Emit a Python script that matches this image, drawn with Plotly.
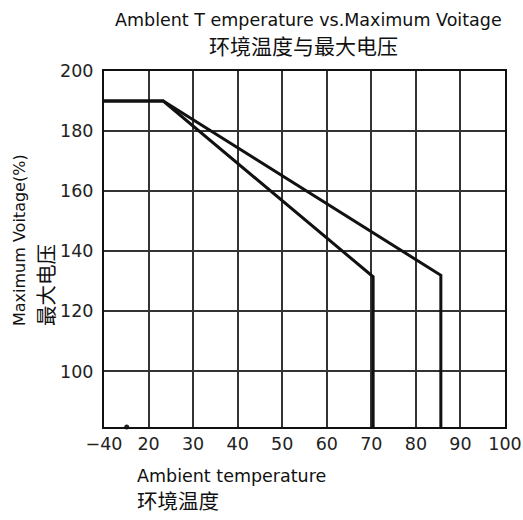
import plotly.graph_objects as go

# axis positions (broken axis: the first tick, labelled -40, sits at position 10)
tick_vals = [10, 20, 30, 40, 50, 60, 70, 80, 90, 100]
tick_labels = ["\u221240", "20", "30", "40", "50", "60", "70", "80", "90", "100"]
y_ticks = [100, 120, 140, 160, 180, 200]

# derating curves
curve1_x = [10, 23.3, 70.4, 70.4]
curve1_y = [190, 190, 131.5, 81.5]
curve2_x = [10, 23.3, 85.6, 85.6]
curve2_y = [190, 190, 132.0, 81.5]

dot_x = [15.1]
dot_y = [81.5]

fig = go.Figure()
for cx, cy in [(curve1_x, curve1_y), (curve2_x, curve2_y)]:
    fig.add_trace(go.Scatter(x=cx, y=cy, mode="lines",
                             line=dict(color="#111111", width=3),
                             showlegend=False, hoverinfo="skip"))
fig.add_trace(go.Scatter(x=dot_x, y=dot_y, mode="markers",
                         marker=dict(color="#222222", size=5),
                         cliponaxis=False, showlegend=False, hoverinfo="skip"))

tick_font = dict(family="DejaVu Sans", size=17.5, color="#222222")
fig.update_xaxes(range=[10, 100], tickmode="array", tickvals=tick_vals, ticktext=tick_labels,
                 showgrid=True, gridcolor="#333333", gridwidth=1.5,
                 showline=True, linecolor="#111111", linewidth=2, mirror=True,
                 zeroline=False, ticks="", tickfont=tick_font, automargin=False)
fig.update_yaxes(range=[81.5, 200], tickmode="array", tickvals=y_ticks,
                 showgrid=True, gridcolor="#333333", gridwidth=1.5,
                 showline=True, linecolor="#111111", linewidth=2, mirror=True,
                 zeroline=False, ticks="", tickfont=tick_font, automargin=False,
                 ticklabelstandoff=5)

en = "DejaVu Sans"
cjk = "Noto Sans CJK SC"
# plot area on screen: x 104..505, y 71..427
PX0, PX1, PY0, PY1 = 104, 505, 71, 427
ann = [
    dict(text="Amblent T emperature vs.Maximum Voitage", x=308, y=20, font=dict(family=en, size=17.5)),
    dict(text="环境温度与最大电压", x=303, y=45, font=dict(family=cjk, size=21)),
    dict(text="Ambient temperature", x=135, y=476, xanchor="left", font=dict(family=en, size=17.5)),
    dict(text="环境温度", x=135, y=500, xanchor="left", font=dict(family=cjk, size=20.5)),
]
annotations = []
for a in ann:
    annotations.append(dict(text=a["text"], xref="paper", yref="paper",
                            x=(a["x"] - PX0) / (PX1 - PX0), y=1 - (a["y"] - PY0) / (PY1 - PY0),
                            xanchor=a.get("xanchor", "center"), yanchor="middle",
                            showarrow=False, font=dict(color="#111111", **a["font"])))
annotations.append(dict(text="Maximum Voitage(%)", xref="paper", yref="paper",
                        x=(19 - PX0) / (PX1 - PX0), y=1 - (328 - PY0) / (PY1 - PY0),
                        xanchor="center", yanchor="bottom",
                        textangle=-90, showarrow=False, font=dict(family=en, size=16, color="#111111")))
annotations.append(dict(text="最大电压", xref="paper", yref="paper",
                        x=(45 - PX0) / (PX1 - PX0), y=1 - (328 - PY0) / (PY1 - PY0),
                        xanchor="center", yanchor="bottom",
                        textangle=-90, showarrow=False, font=dict(family=cjk, size=20.5, color="#111111")))

W, H = 523, 520
fig.update_layout(width=W, height=H,
                  margin=dict(l=PX0, r=W - PX1, t=PY0, b=H - PY1, autoexpand=False),
                  paper_bgcolor="white", plot_bgcolor="white",
                  annotations=annotations)
fig.write_html("out.html", config={"displayModeBar": False},
               post_script="document.body.style.margin='0';document.body.style.overflow='hidden';")
